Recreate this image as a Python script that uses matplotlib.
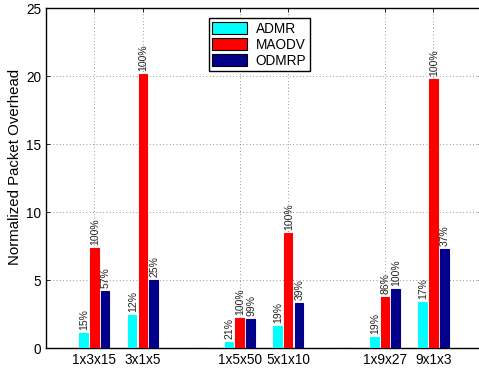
import numpy as np
import matplotlib.pyplot as plt

plt.rcParams['font.family'] = ['Liberation Sans', 'DejaVu Sans']

# topologies (empty slots separate the three groups)
topologies = ["1x3x15", "3x1x5", "", "1x5x50", "5x1x10", "", "1x9x27", "9x1x3"]
admr = [1.10, 2.43, 0.0, 0.47, 1.62, 0.0, 0.85, 3.38]
maodv = [7.35, 20.15, 0.0, 2.20, 8.50, 0.0, 3.77, 19.78]
odmrp = [4.22, 5.00, 0.0, 2.16, 3.35, 0.0, 4.34, 7.28]
pct_admr = ["15%", "12%", "", "21%", "19%", "", "19%", "17%"]
pct_maodv = ["100%", "100%", "", "100%", "100%", "", "86%", "100%"]
pct_odmrp = ["57%", "25%", "", "99%", "39%", "", "100%", "37%"]

series = [("ADMR", admr, pct_admr, "#00ffff"),
          ("MAODV", maodv, pct_maodv, "#ff0000"),
          ("ODMRP", odmrp, pct_odmrp, "#00008b")]

fig = plt.figure(figsize=(4.79, 3.72), dpi=100)
ax = fig.add_axes([0.096, 0.064, 0.91, 0.914])

x = np.arange(1, len(topologies) + 1)
step = 0.667 / 3
w = step * 0.8
for k, (name, vals, pcts, col) in enumerate(series):
    pos = x + (k - 1) * step
    ax.bar(pos, vals, w, color=col, edgecolor=col, linewidth=0.8, label=name, zorder=3)
    for xp, v, p in zip(pos, vals, pcts):
        if p:
            ax.annotate(p, (xp, v), xytext=(0.5, 2), textcoords="offset points",
                        rotation=90, ha="center", va="bottom", fontsize=7.5, color="#222222")

ticks = [i for i, t in enumerate(topologies) if t]
ax.set_xticks(x[ticks])
ax.set_xticklabels([topologies[i] for i in ticks], fontsize=9.8)
ax.set_xlim(0, 9)
ax.set_ylim(0, 25)
ax.set_yticks([0, 5, 10, 15, 20, 25])
ax.tick_params(axis="y", labelsize=9.8)
ax.tick_params(direction="in", top=True, right=True, length=3, width=0.6)
ax.set_ylabel("Normalized Packet Overhead", fontsize=10.8)
ax.yaxis.set_label_coords(-0.054, 0.532)
ax.grid(True, linestyle=(0, (1, 3)), color="#777777", linewidth=0.6, zorder=0)
for s in ax.spines.values():
    s.set_linewidth(1.0)

leg = ax.legend(loc="upper center", bbox_to_anchor=(0.489, 0.97), borderaxespad=0,
                fontsize=9.8, frameon=True, fancybox=False, edgecolor="black",
                framealpha=1, handlelength=2.6, handleheight=1.0, borderpad=0.25,
                labelspacing=0.15, handletextpad=0.6)
for h in leg.legend_handles:
    h.set_edgecolor("black")
    h.set_linewidth(0.8)

fig.savefig("out.png", dpi=100)
